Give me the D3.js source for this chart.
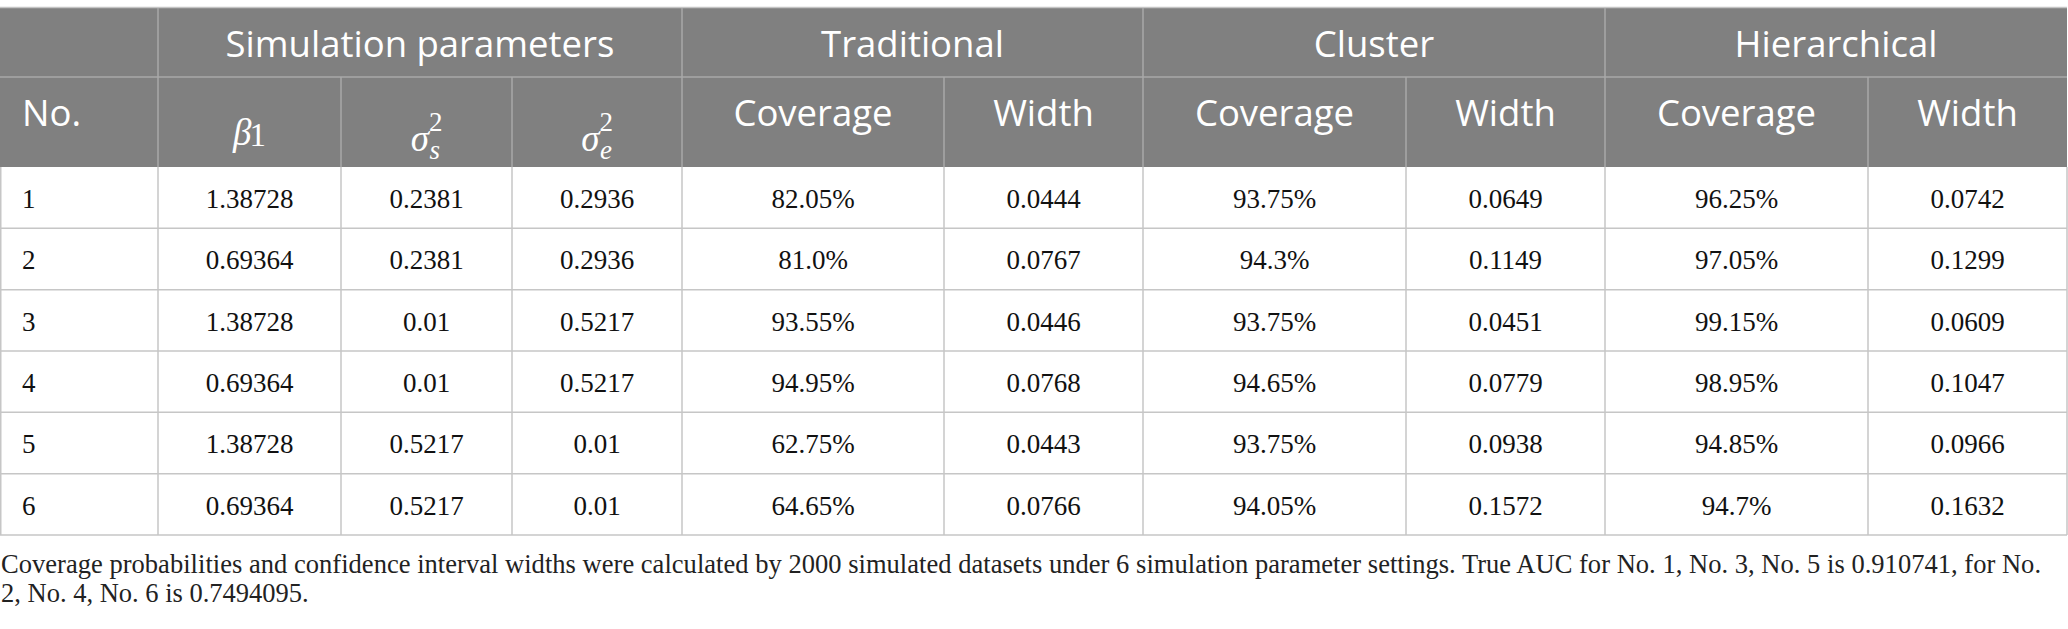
<!DOCTYPE html>
<html>
<head>
<meta charset="utf-8">
<script src="https://cdn.jsdelivr.net/npm/d3@7"></script>
<style>
  html, body { margin: 0; padding: 0; background: #fff; }
  svg { display: block; }
</style>
</head>
<body>
<div id="table"></div>
<script>
// table values, one array per column
const ids = ['1', '2', '3', '4', '5', '6']
const beta1 = ['1.38728', '0.69364', '1.38728', '0.69364', '1.38728', '0.69364']
const sigmaS = ['0.2381', '0.2381', '0.01', '0.01', '0.5217', '0.5217']
const sigmaE = ['0.2936', '0.2936', '0.5217', '0.5217', '0.01', '0.01']
const tradCoverage = ['82.05%', '81.0%', '93.55%', '94.95%', '62.75%', '64.65%']
const tradWidth = ['0.0444', '0.0767', '0.0446', '0.0768', '0.0443', '0.0766']
const clusCoverage = ['93.75%', '94.3%', '93.75%', '94.65%', '93.75%', '94.05%']
const clusWidth = ['0.0649', '0.1149', '0.0451', '0.0779', '0.0938', '0.1572']
const hierCoverage = ['96.25%', '97.05%', '99.15%', '98.95%', '94.85%', '94.7%']
const hierWidth = ['0.0742', '0.1299', '0.0609', '0.1047', '0.0966', '0.1632']

const groups = ['', 'Simulation parameters', 'Traditional', 'Cluster', 'Hierarchical']
const subHeaders = ['No.', 'beta1', 'sigmaS', 'sigmaE', 'Coverage', 'Width', 'Coverage', 'Width', 'Coverage', 'Width']
const footnote = [
  'Coverage probabilities and confidence interval widths were calculated by 2000 simulated datasets under 6 simulation parameter settings. True AUC for No. 1, No. 3, No. 5 is 0.910741, for No.',
  '2, No. 4, No. 6 is 0.7494095.'
]

const columns = [ids, beta1, sigmaS, sigmaE, tradCoverage, tradWidth, clusCoverage, clusWidth, hierCoverage, hierWidth]

// layout
const W = 2068
const H = 629
const colEdges = [0, 158, 341, 512, 682, 944, 1143, 1406, 1605, 1868, 2067]
const groupSpans = [[0, 1], [1, 4], [4, 6], [6, 8], [8, 10]]
const headTop = 8
const headMid = 77
const headBottom = 167
const tableBottom = 535

const headFill = '#808080'
const headLine = '#a8a8a8'
const bodyLine = '#c6c6c6'
const sans = "'Open Sans', 'Noto Sans', sans-serif"
const serif = "'Liberation Serif', 'DejaVu Serif', serif"

const svg = d3.select('#table')
  .append('svg')
  .attr('width', W)
  .attr('height', H)

const x = i => colEdges[i]
const cx = i => (colEdges[i] + colEdges[i + 1]) / 2

const y = d3.scaleBand()
  .domain(d3.range(ids.length))
  .range([headBottom, tableBottom])

// header background
svg.append('rect')
  .attr('x', 0)
  .attr('y', headTop)
  .attr('width', x(10))
  .attr('height', headBottom - headTop)
  .attr('fill', headFill)

svg.append('line')
  .attr('x1', 0).attr('x2', x(10))
  .attr('y1', headTop - 0.5).attr('y2', headTop - 0.5)
  .attr('stroke', '#c4c4c4')
  .attr('stroke-width', 1.5)

const headLines = svg.append('g')
  .attr('stroke', headLine)
  .attr('stroke-width', 1.5)

headLines.append('line')
  .attr('x1', 0).attr('x2', x(10))
  .attr('y1', headMid).attr('y2', headMid)

groupSpans.forEach(([a, b], gi) => {
  if (gi > 0) {
    headLines.append('line')
      .attr('x1', x(a)).attr('x2', x(a))
      .attr('y1', headTop).attr('y2', headBottom)
  }
  for (let c = a + 1; c < b; c++) {
    headLines.append('line')
      .attr('x1', x(c)).attr('x2', x(c))
      .attr('y1', headMid).attr('y2', headBottom)
  }
})

// group titles
svg.append('g')
  .selectAll('text')
  .data(groupSpans.slice(1))
  .join('text')
    .attr('x', d => (x(d[0]) + x(d[1])) / 2)
    .attr('y', 57)
    .attr('text-anchor', 'middle')
    .attr('fill', '#fff')
    .attr('font-family', sans)
    .attr('font-size', 36.5)
    .text((d, i) => groups[i + 1])

// second header row
const sub = svg.append('g')
  .attr('fill', '#fff')

subHeaders.forEach((h, i) => {
  if (i === 0) {
    sub.append('text')
      .attr('x', 22).attr('y', 126)
      .attr('font-family', sans).attr('font-size', 36.5)
      .text(h)
  } else if (i >= 4) {
    sub.append('text')
      .attr('x', cx(i)).attr('y', 126)
      .attr('text-anchor', 'middle')
      .attr('font-family', sans).attr('font-size', 36.5)
      .text(h)
  }
})

// math headers
const mathSym = [
  { col: 1, base: '\u03B2', sub: '1', sup: null, yb: 145 },
  { col: 2, base: '\u03C3', sub: 's', sup: '2', yb: 151 },
  { col: 3, base: '\u03C3', sub: 'e', sup: '2', yb: 151 }
]
mathSym.forEach(m => {
  const t = sub.append('text')
    .attr('x', cx(m.col))
    .attr('y', m.yb)
    .attr('text-anchor', 'middle')
    .attr('font-family', serif)
    .attr('font-size', 37)
  t.append('tspan')
    .attr('font-style', 'italic')
    .text(m.base)
  if (m.sup) {
    t.append('tspan')
      .attr('font-size', 27)
      .attr('dy', -20)
      .text(m.sup)
    t.append('tspan')
      .attr('font-size', 27)
      .attr('font-style', 'italic')
      .attr('dx', -13)
      .attr('dy', 28)
      .text(m.sub)
  } else {
    t.append('tspan')
      .attr('font-size', 33)
      .attr('dx', -2)
      .attr('dy', 1)
      .text(m.sub)
  }
})

// body grid
const grid = svg.append('g')
  .attr('stroke', bodyLine)
  .attr('stroke-width', 1.5)

grid.selectAll('line.row')
  .data(d3.range(ids.length))
  .join('line')
    .attr('class', 'row')
    .attr('x1', 0).attr('x2', x(10))
    .attr('y1', i => y(i) + y.bandwidth())
    .attr('y2', i => y(i) + y.bandwidth())

grid.selectAll('line.col')
  .data(colEdges)
  .join('line')
    .attr('class', 'col')
    .attr('x1', d => d === 0 ? 0.75 : d).attr('x2', d => d === 0 ? 0.75 : d)
    .attr('y1', headBottom).attr('y2', tableBottom)

// body cells
const body = svg.append('g')
  .attr('font-family', serif)
  .attr('font-size', 27)
  .attr('fill', '#111')

columns.forEach((col, ci) => {
  body.append('g')
    .selectAll('text')
    .data(col)
    .join('text')
      .attr('x', ci === 0 ? 22 : cx(ci))
      .attr('y', (d, i) => y(i) + 41)
      .attr('text-anchor', ci === 0 ? 'start' : 'middle')
      .text(d => d)
})

// note under the table, first line set to the table width
svg.append('g')
  .selectAll('text')
  .data(footnote)
  .join('text')
    .attr('x', 1)
    .attr('y', (d, i) => 573 + i * 29)
    .attr('font-family', serif)
    .attr('font-size', 26.5)
    .attr('fill', '#222')
    .attr('textLength', (d, i) => i === 0 ? 2040 : null)
    .attr('lengthAdjust', 'spacing')
    .text(d => d)
</script>
</body>
</html>
